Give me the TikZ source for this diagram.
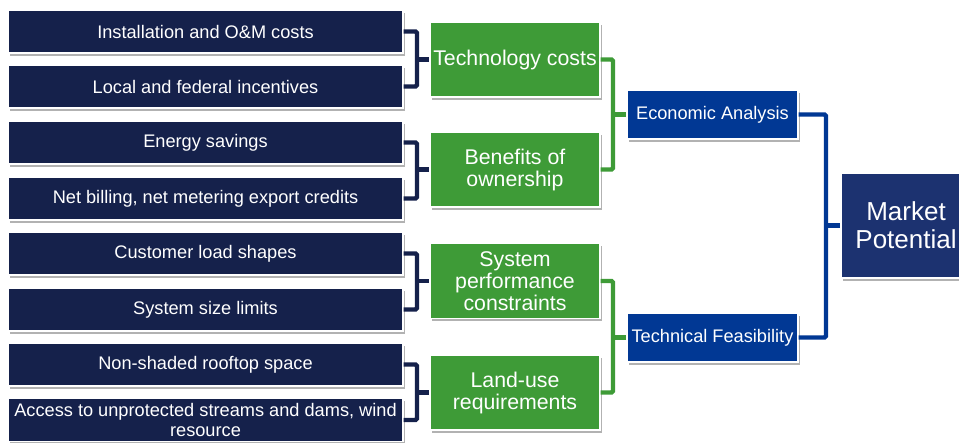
\documentclass[tikz,border=0pt]{standalone}
\usepackage{fontspec}
\setmainfont{Liberation Sans}
\usetikzlibrary{shadows}
\definecolor{navy}{HTML}{15214B}
\definecolor{gr}{HTML}{3E9B37}
\definecolor{blu}{HTML}{013894}
\definecolor{mkt}{HTML}{1C3270}
\tikzset{
  base/.style={draw=white, line width=1.2pt, text=white, align=center, inner sep=0pt,
    drop shadow={shadow xshift=1.5pt, shadow yshift=-2.5pt, opacity=0.3, fill=black}},
  leafbox/.style={base, fill=navy, minimum width=395pt, minimum height=43pt,
    font=\fontsize{18.2}{20}\selectfont},
  midbox/.style={base, fill=gr, minimum width=170pt, minimum height=75pt,
    font=\fontsize{21.3}{22}\selectfont},
  anbox/.style={base, fill=blu, minimum width=171pt, minimum height=49pt,
    font=\fontsize{18.2}{20}\selectfont},
  topbox/.style={base, fill=mkt, minimum width=130pt, minimum height=105pt,
    font=\fontsize{26}{28}\selectfont},
  bnavy/.style={draw=navy, line width=4.3pt, rounded corners=1.5pt},
  bgreen/.style={draw=gr, line width=4.3pt, rounded corners=1.5pt},
  bblue/.style={draw=blu, line width=4.3pt, rounded corners=1.5pt},
}
\begin{document}
\begin{tikzpicture}[x=1pt, y=1pt]
\useasboundingbox (0,0) rectangle (959,-442);
% leaf boxes
\node[leafbox] (l1) at (205.5,-31.5) {Installation and O\&M costs};
\node[leafbox] (l2) at (205.5,-86.5) {Local and federal incentives};
\node[leafbox] (l3) at (205.5,-142.5) {Energy savings};
\node[leafbox] (l4) at (205.5,-198.5) {Net billing, net metering export credits};
\node[leafbox] (l5) at (205.5,-253.5) {Customer load shapes};
\node[leafbox] (l6) at (205.5,-309.5) {System size limits};
\node[leafbox] (l7) at (205.5,-364.5) {Non-shaded rooftop space};
\node[leafbox] (l8) at (205.5,-420) {Access to unprotected streams and dams, wind\\ resource};
% middle boxes
\node[midbox] (g1) at (515,-59.5) {Technology costs};
\node[midbox] (g2) at (515,-169.5) {Benefits of\\ ownership};
\node[midbox] (g3) at (515,-281) {System\\ performance\\ constraints};
\node[midbox] (g4) at (515,-392.5) {Land-use\\ requirements};
% analysis boxes
\node[anbox] (ea) at (712.5,-114.5) {Economic Analysis};
\node[anbox] (tf) at (712.5,-337.5) {Technical Feasibility};
% top
\node[topbox] (mp) at (906,-225.5) {Market\\ Potential};
% navy brackets
\coordinate (c1) at (417,-59.5);
\coordinate (c2) at (417,-169.5);
\coordinate (c3) at (417,-281);
\coordinate (c4) at (417,-392.5);
\draw[bnavy] (l1.east) -| (c1) |- (l2.east);
\draw[bnavy] (c1) -- (g1.west);
\draw[bnavy] (l3.east) -| (c2) |- (l4.east);
\draw[bnavy] (c2) -- (g2.west);
\draw[bnavy] (l5.east) -| (c3) |- (l6.east);
\draw[bnavy] (c3) -- (g3.west);
\draw[bnavy] (l7.east) -| (c4) |- (l8.east);
\draw[bnavy] (c4) -- (g4.west);
% green brackets
\coordinate (d1) at (613,-114.5);
\coordinate (d2) at (613,-337.5);
\draw[bgreen] (g1.east) -| (d1) |- (g2.east);
\draw[bgreen] (d1) -- (ea.west);
\draw[bgreen] (g3.east) -| (d2) |- (g4.east);
\draw[bgreen] (d2) -- (tf.west);
% blue bracket
\coordinate (e1) at (826,-225.5);
\draw[bblue] (ea.east) -| (e1) |- (tf.east);
\draw[bblue] (e1) -- (mp.west);
\end{tikzpicture}
\end{document}
